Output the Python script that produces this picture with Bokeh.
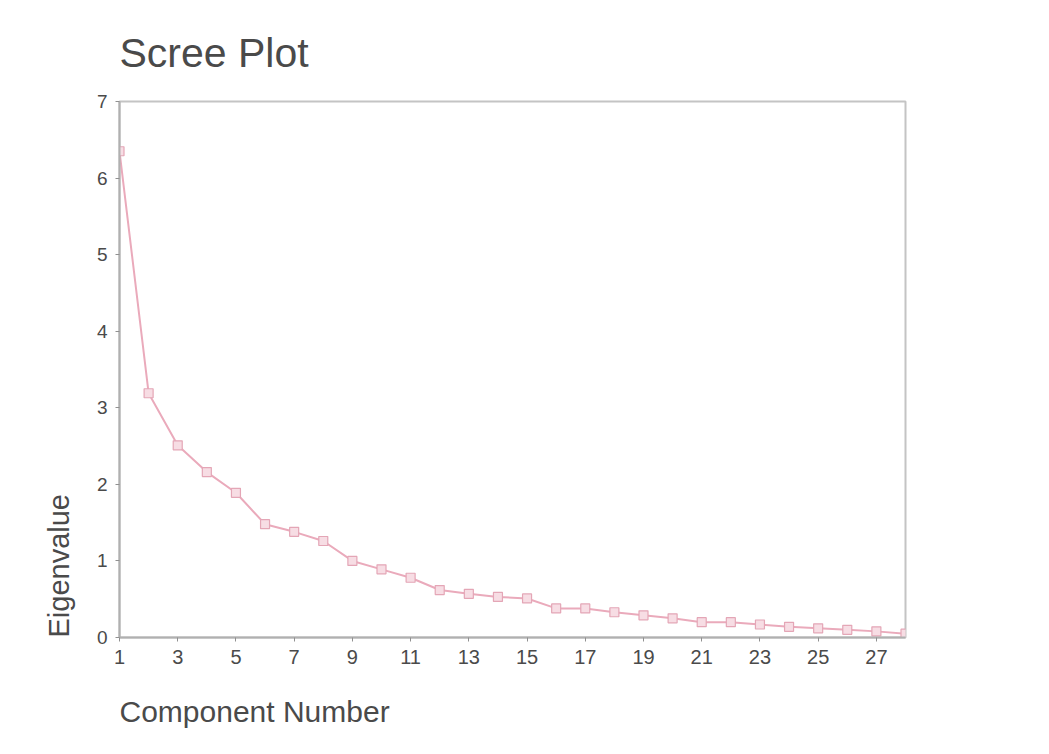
from bokeh.plotting import figure
from bokeh.models import ColumnDataSource, FixedTicker, Range1d, Title
from bokeh.embed import file_html
from bokeh.resources import INLINE

component = list(range(1, 29))
eigenvalue = [6.35, 3.19, 2.51, 2.16, 1.89, 1.48, 1.38, 1.26, 1.00, 0.89,
              0.78, 0.62, 0.57, 0.53, 0.51, 0.38, 0.38, 0.33, 0.29, 0.25,
              0.20, 0.20, 0.17, 0.14, 0.12, 0.10, 0.08, 0.05]
x_ticks = [1, 3, 5, 7, 9, 11, 13, 15, 17, 19, 21, 23, 25, 27]
y_ticks = [0, 1, 2, 3, 4, 5, 6, 7]

FONT = "Liberation Sans"
TXT = "#4a4a4a"
PINK = "#eaaabb"

src = ColumnDataSource(dict(x=component, y=eigenvalue))

p = figure(width=1033, height=754, output_backend="svg", toolbar_location=None,
           x_range=Range1d(1, 28), y_range=Range1d(0, 7),
           min_border_left=119, min_border_right=128,
           min_border_top=101, min_border_bottom=117,
           background_fill_color="white", border_fill_color="white")

p.title.text = "Scree Plot"
p.title.text_font = FONT
p.title.text_font_size = "41px"
p.title.text_font_style = "normal"
p.title.text_color = TXT
p.title.align = "left"
p.title.standoff = 52

p.add_layout(Title(text="Component Number", align="left", text_font=FONT,
                   text_font_size="30px", text_font_style="normal",
                   text_color=TXT, standoff=52), "below")
p.add_layout(Title(text="Eigenvalue", align="left", text_font=FONT,
                   text_font_size="29px", text_font_style="normal",
                   text_color=TXT, standoff=37), "left")

p.grid.visible = False
p.outline_line_color = "#c4c4c4"
p.outline_line_width = 2

for ax in (p.xaxis[0], p.yaxis[0]):
    ax.axis_line_color = "#b0b0b0"
    ax.axis_line_width = 2
    ax.major_tick_line_color = "#909090"
    ax.major_tick_out = 4
    ax.major_tick_in = 0
    ax.minor_tick_line_color = None
    ax.major_label_text_font = FONT
    ax.major_label_text_color = TXT

p.xaxis.ticker = FixedTicker(ticks=x_ticks)
p.yaxis.ticker = FixedTicker(ticks=y_ticks)
p.xaxis.major_label_text_font_size = "20px"
p.yaxis.major_label_text_font_size = "19px"
p.xaxis.major_label_standoff = 8
p.yaxis.major_label_standoff = 8

p.line("x", "y", source=src, line_color=PINK, line_width=2)
p.scatter("x", "y", source=src, marker="square", size=9,
          line_color="#e4a6b6", fill_color="#f7dde4", line_width=1.2)

open("out.html", "w").write(file_html(p, INLINE))
